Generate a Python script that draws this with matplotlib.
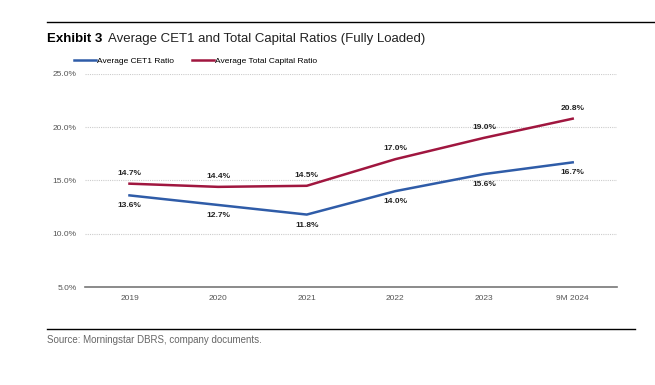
import matplotlib.pyplot as plt
from matplotlib.lines import Line2D

# data
years = ["2019", "2020", "2021", "2022", "2023", "9M 2024"]
cet1 = [13.6, 12.7, 11.8, 14.0, 15.6, 16.7]
total_capital = [14.7, 14.4, 14.5, 17.0, 19.0, 20.8]
yticks = [5, 10, 15, 20, 25]

blue = "#2f5ca8"
red = "#a0163f"
fam = ["Liberation Sans", "DejaVu Sans"]

fig = plt.figure(figsize=(6.55, 3.85), dpi=100)
ax = fig.add_axes([0.130, 0.2545, 0.812, 0.5535])

x = range(len(years))
ax.plot(x, cet1, color=blue, lw=1.8, label="Average CET1 Ratio")
ax.plot(x, total_capital, color=red, lw=1.8, label="Average Total Capital Ratio")

for i in x:
    ax.annotate(f"{total_capital[i]:.1f}%", (i, total_capital[i]), xytext=(0, 5),
                textcoords="offset points", ha="center", va="bottom",
                fontsize=6, fontweight="bold", family=fam, color="#222222")
    ax.annotate(f"{cet1[i]:.1f}%", (i, cet1[i]), xytext=(0, -5),
                textcoords="offset points", ha="center", va="top",
                fontsize=6, fontweight="bold", family=fam, color="#222222")

ax.set_xlim(-0.5, len(years) - 0.5)
ax.set_ylim(5, 25)
ax.set_yticks(yticks)
ax.set_yticklabels([f"{v:.1f}%" for v in yticks])
ax.set_xticks(list(x))
ax.set_xticklabels(years)
for lab in ax.get_xticklabels() + ax.get_yticklabels():
    lab.set_family(fam)
    lab.set_fontsize(6)
    lab.set_color("#555555")
ax.tick_params(length=0, pad=6)

ax.grid(axis="y", color="#cccccc", ls=(0, (1, 1)), lw=0.8)
for s in ["top", "right", "left"]:
    ax.spines[s].set_visible(False)
ax.spines["bottom"].set_color("#777777")
ax.spines["bottom"].set_linewidth(1.2)

# legend
handles = [Line2D([], [], color=blue, lw=1.8), Line2D([], [], color=red, lw=1.8)]
fig.legend(handles, ["Average CET1 Ratio", "Average Total Capital Ratio"],
           loc="center left", bbox_to_anchor=(0.102, 0.842), ncol=2, frameon=False,
           handlelength=2.6, handletextpad=0.1, columnspacing=2.2,
           prop={"family": fam, "size": 6})

# title and rules
fig.add_artist(Line2D([0.072, 1.0], [0.943, 0.943], color="black", lw=1.0))
t1 = fig.text(0.072, 0.899, "Exhibit 3", fontsize=9.5, fontweight="bold", family=fam,
              va="center")
fig.canvas.draw()
bb = t1.get_window_extent()
fig.text((bb.x1 + 5) / fig.bbox.width, 0.899,
         "Average CET1 and Total Capital Ratios (Fully Loaded)",
         fontsize=9.5, family=fam, va="center", color="#222222")
fig.add_artist(Line2D([0.072, 0.97], [0.145, 0.145], color="black", lw=1.0))
fig.text(0.072, 0.118, "Source: Morningstar DBRS, company documents.", fontsize=7,
         family=fam, va="center", color="#666666")

fig.savefig("out.png", dpi=100)
